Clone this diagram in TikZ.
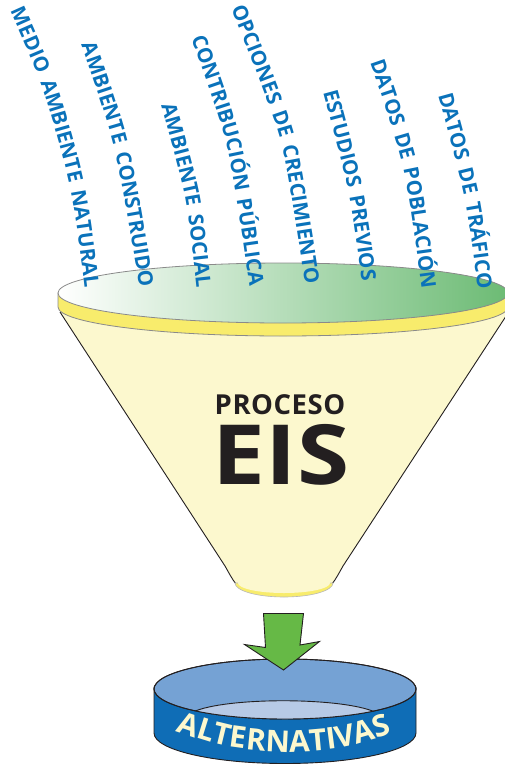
\documentclass[tikz,border=0pt]{standalone}
\usepackage{graphicx}
\usepackage{fontspec}
\setmainfont{Open Sans}
\usetikzlibrary{decorations.text}
\definecolor{lblblue}{HTML}{0A72BA}
\definecolor{cream}{HTML}{FCF8CE}
\definecolor{rimyellow}{HTML}{F8EC6C}
\definecolor{topgreen}{HTML}{6CBB74}
\definecolor{arrowgreen}{HTML}{66B946}
\definecolor{dishblue}{HTML}{75A2D4}
\definecolor{dishlight}{HTML}{B7CAE6}
\definecolor{bandblue}{HTML}{0F6DB6}
\definecolor{edgegrey}{HTML}{8A8A8A}
\definecolor{inkdark}{HTML}{231F20}
\newcommand{\lblfont}{\fontsize{20.5}{20.5}\selectfont\bfseries\addfontfeature{LetterSpace=14}\color{lblblue}}
\tikzset{
  curvelabel/.style={decorate,decoration={text along path,text align=left,
    text={|\lblfont|#1}}},
  rimedge/.style={draw=edgegrey,line width=0.8pt},
  darkedge/.style={draw=inkdark,line width=0.9pt,line join=miter}
}
\begin{document}
\begin{tikzpicture}[x=1pt,y=-1pt]
\useasboundingbox (0,0) rectangle (505,764);
\clip (0,0) rectangle (505,764);
% funnel body
\fill[cream] (60,300) -- (60,312) -- (225,566) .. controls (229,573) and (232,579) .. (236,584)
  -- (332,584) .. controls (336,579) and (339,573) .. (343,566) -- (510,310) -- (510,300) -- cycle;
\draw[inkdark,line width=0.9pt] (60,312) -- (225,566) .. controls (229,573) and (232,579) .. (236,584);
\draw[inkdark,line width=0.9pt] (510,310) -- (343,566) .. controls (339,573) and (336,579) .. (332,584);
% lower rim
\path[fill=rimyellow,draw=edgegrey!60,line width=0.6pt] (235,583) arc[start angle=180,end angle=0,x radius=49,y radius=14] -- cycle;
\fill[cream] (238,581) -- (238,583) arc[start angle=180,end angle=0,x radius=46,y radius=10] -- (330,581) -- cycle;
% upper rim band
\path[fill=rimyellow,rimedge] (58,293) -- (58,307) arc[start angle=180,end angle=0,x radius=225,y radius=29] -- (508,293) -- cycle;
\path[rimedge,left color=white,right color=topgreen] (283,293) ellipse[x radius=225,y radius=30];
% labels
\path[curvelabel={MEDIO AMBIENTE NATURAL}] plot[smooth] coordinates {(10,11) (42,87) (70,187) (85,291) (88,340)};
\path[curvelabel={AMBIENTE CONSTRUIDO}] plot[smooth] coordinates {(81,45) (114,147) (140,290) (146,340)};
\path[curvelabel={AMBIENTE SOCIAL}] plot[smooth] coordinates {(161,105) (185,197) (197,291) (200,340)};
\path[curvelabel={CONTRIBUCIÓN PÚBLICA}] plot[smooth] coordinates {(191,38) (227,147) (250,290) (255,340)};
\path[curvelabel={OPCIONES DE CRECIMIENTO}] plot[smooth] coordinates {(231,8) (268,103) (285,160) (306,290) (311,340)};
\path[curvelabel={ESTUDIOS PREVIOS}] plot[smooth] coordinates {(323,92) (348,190) (363,290) (367,340)};
\path[curvelabel={DATOS DE POBLACIÓN}] plot[smooth] coordinates {(370,62) (403,167) (422,290) (426,340)};
\path[curvelabel={DATOS DE TRÁFICO}] plot[smooth] coordinates {(438,95) (464,195) (478,290) (482,340)};
% centre text
\node[text=inkdark,font=\fontsize{27.5}{27.5}\selectfont\bfseries] (proceso) at (280,405) {\addfontfeature{LetterSpace=2}PROCESO};
\node[text=inkdark,font=\fontsize{83}{83}\selectfont\bfseries] (eis) at (281,455) {\scalebox{1.14}[1]{EIS}};
% dish
\path[fill=bandblue,darkedge] (154,687) -- (154,733) arc[start angle=180,end angle=0,x radius=131,y radius=30.5] -- (416,687) -- cycle;
\path[fill=dishblue,darkedge] (285,689) ellipse[x radius=131,y radius=30];
\begin{scope}
\clip (285,689) ellipse[x radius=131,y radius=30];
\path[fill=dishlight,darkedge] (193,712) .. controls (225,697) and (341,697) .. (375,712) -- (375,725) -- (193,725) -- cycle;
\end{scope}
\draw[darkedge] (285,689) ellipse[x radius=131,y radius=30];
\path[decorate,decoration={text along path,text align=left,
  text={|\fontsize{30}{30}\selectfont\bfseries\addfontfeature{LetterSpace=15}\color{cream}|ALTERNATIVAS}}]
  plot[smooth] coordinates {(176,731) (225,746) (287,752) (345,747) (401,730) (440,710)};
% arrow
\path[fill=arrowgreen,darkedge] (263.5,613.5) -- (303.5,613.5) -- (300,645) -- (319.5,641.5) -- (283.5,670) -- (244.5,644.5) -- (265.5,647.5) -- cycle;
\end{tikzpicture}
\end{document}
